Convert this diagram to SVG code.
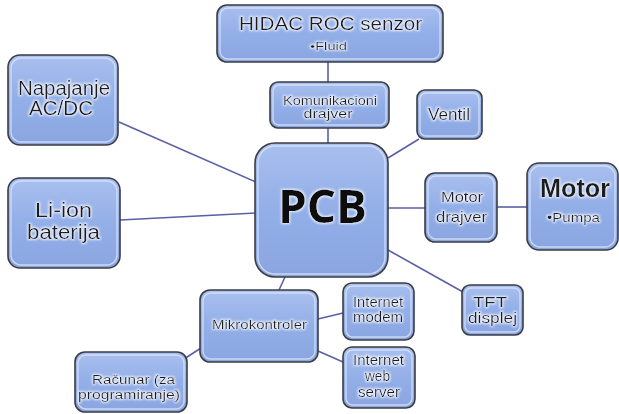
<svg xmlns="http://www.w3.org/2000/svg" width="619" height="414" viewBox="0 0 619 414">
<defs>
<linearGradient id="fillg" x1="0" y1="0" x2="0" y2="1">
<stop offset="0" stop-color="#a9bfee"/>
<stop offset="0.5" stop-color="#93afe8"/>
<stop offset="1" stop-color="#8aa5e0"/>
</linearGradient>
<filter id="glow" x="-20%" y="-40%" width="140%" height="180%">
<feMorphology in="SourceAlpha" operator="dilate" radius="1" result="d"/>
<feGaussianBlur in="d" stdDeviation="1.3" result="b"/>
<feFlood flood-color="#f4f7ff" flood-opacity="0.9"/>
<feComposite in2="b" operator="in" result="g"/>
<feMerge><feMergeNode in="g"/><feMergeNode in="SourceGraphic"/></feMerge>
</filter>
</defs>
<style>
.box{fill:url(#fillg);stroke:#3b3d45;stroke-width:1.6}
.hl{fill:none;stroke:#dfe8fb;stroke-width:1.4;stroke-opacity:0.75}
.t{font-family:"Liberation Sans",Arial,sans-serif;fill:#1c1c1c;text-anchor:middle;filter:url(#glow)}
.b{font-weight:bold}
.pcb{font-family:"Open Sans","Liberation Sans",sans-serif;font-weight:bold;fill:#0a0a0a;text-anchor:middle;filter:url(#glow)}
.c{stroke:#5a5fa6;stroke-width:1.6;fill:none}
</style>
<rect width="619" height="414" fill="#ffffff"/>
<g id="connectors">
<line class="c" x1="328" y1="62" x2="328" y2="82"/>
<line class="c" x1="328" y1="128" x2="328" y2="143"/>
<line class="c" x1="388" y1="158" x2="419" y2="139"/>
<line class="c" x1="119" y1="122" x2="256" y2="182"/>
<line class="c" x1="120" y1="220" x2="256" y2="213"/>
<line class="c" x1="388" y1="208" x2="425" y2="208"/>
<line class="c" x1="497" y1="207" x2="527" y2="207"/>
<line class="c" x1="388" y1="250" x2="463" y2="292"/>
<line class="c" x1="285" y1="277" x2="279" y2="290"/>
<line class="c" x1="318" y1="319" x2="343" y2="313"/>
<line class="c" x1="318" y1="351" x2="343" y2="362"/>
<line class="c" x1="201" y1="348" x2="184" y2="359"/>
</g>
<g id="hidac">
<rect class="box" x="217" y="5" width="226" height="57" rx="10"/>
<rect class="hl" x="220" y="8" width="220" height="51" rx="8"/>
<text class="t" x="330.5" y="30" font-size="18" textLength="183" lengthAdjust="spacingAndGlyphs">HIDAC ROC senzor</text>
<text class="t" x="328.5" y="50" font-size="11" textLength="37" lengthAdjust="spacingAndGlyphs">•Fluid</text>
</g>
<g id="komunikacioni">
<rect class="box" x="270" y="82" width="119" height="46" rx="8"/>
<rect class="hl" x="273" y="85" width="113" height="40" rx="6"/>
<text class="t" x="330" y="105" font-size="12.5" textLength="94" lengthAdjust="spacingAndGlyphs">Komunikacioni</text>
<text class="t" x="328" y="118" font-size="12.5" textLength="49" lengthAdjust="spacingAndGlyphs">drajver</text>
</g>
<g id="ventil">
<rect class="box" x="417" y="90" width="65" height="49" rx="8"/>
<rect class="hl" x="420" y="93" width="59" height="43" rx="6"/>
<text class="t" x="449" y="120" font-size="16" textLength="42" lengthAdjust="spacingAndGlyphs">Ventil</text>
</g>
<g id="napajanje">
<rect class="box" x="8" y="55" width="110" height="90" rx="12"/>
<rect class="hl" x="11" y="58" width="104" height="84" rx="10"/>
<text class="t" x="64" y="95" font-size="20" textLength="92" lengthAdjust="spacingAndGlyphs">Napajanje</text>
<text class="t" x="61" y="115" font-size="20" textLength="64" lengthAdjust="spacingAndGlyphs">AC/DC</text>
</g>
<g id="liion">
<rect class="box" x="8" y="178" width="112" height="90" rx="12"/>
<rect class="hl" x="11" y="181" width="106" height="84" rx="10"/>
<text class="t" x="63.5" y="217" font-size="20" textLength="57" lengthAdjust="spacingAndGlyphs">Li-ion</text>
<text class="t" x="63.5" y="239" font-size="20" textLength="73" lengthAdjust="spacingAndGlyphs">baterija</text>
</g>
<g id="pcb">
<rect class="box" x="255" y="143" width="133" height="134" rx="20"/>
<rect class="hl" x="258" y="146" width="127" height="128" rx="17"/>
<text class="pcb" x="322.5" y="223" font-size="46" textLength="89" lengthAdjust="spacingAndGlyphs">PCB</text>
</g>
<g id="motordrajver">
<rect class="box" x="425" y="173" width="72" height="69" rx="10"/>
<rect class="hl" x="428" y="176" width="66" height="63" rx="8"/>
<text class="t" x="462" y="202" font-size="15" textLength="42" lengthAdjust="spacingAndGlyphs">Motor</text>
<text class="t" x="461.5" y="222" font-size="15" textLength="51" lengthAdjust="spacingAndGlyphs">drajver</text>
</g>
<g id="motor">
<rect class="box" x="527" y="163" width="91" height="87" rx="12"/>
<rect class="hl" x="530" y="166" width="85" height="81" rx="10"/>
<text class="t b" x="575" y="197" font-size="26" textLength="70" lengthAdjust="spacingAndGlyphs">Motor</text>
<text class="t" x="573.5" y="222" font-size="13" textLength="53" lengthAdjust="spacingAndGlyphs">•Pumpa</text>
</g>
<g id="tft">
<rect class="box" x="462" y="285" width="61" height="50" rx="8"/>
<rect class="hl" x="465" y="288" width="55" height="44" rx="6"/>
<text class="t" x="490" y="307" font-size="15" textLength="34" lengthAdjust="spacingAndGlyphs">TFT</text>
<text class="t" x="492.5" y="323" font-size="15" textLength="49" lengthAdjust="spacingAndGlyphs">displej</text>
</g>
<g id="mikrokontroler">
<rect class="box" x="200" y="290" width="118" height="72" rx="10"/>
<rect class="hl" x="203" y="293" width="112" height="66" rx="8"/>
<text class="t" x="259.5" y="329" font-size="13" textLength="95" lengthAdjust="spacingAndGlyphs">Mikrokontroler</text>
</g>
<g id="modem">
<rect class="box" x="343" y="283" width="71" height="57" rx="9"/>
<rect class="hl" x="346" y="286" width="65" height="51" rx="7"/>
<text class="t" x="378" y="307" font-size="14" textLength="50" lengthAdjust="spacingAndGlyphs">Internet</text>
<text class="t" x="378" y="322" font-size="14" textLength="50" lengthAdjust="spacingAndGlyphs">modem</text>
</g>
<g id="webserver">
<rect class="box" x="343" y="347" width="72" height="61" rx="9"/>
<rect class="hl" x="346" y="350" width="66" height="55" rx="7"/>
<text class="t" x="378.5" y="365" font-size="14" textLength="51" lengthAdjust="spacingAndGlyphs">Internet</text>
<text class="t" x="377.5" y="381" font-size="14" textLength="25" lengthAdjust="spacingAndGlyphs">web</text>
<text class="t" x="379" y="397" font-size="14" textLength="42" lengthAdjust="spacingAndGlyphs">server</text>
</g>
<g id="racunar">
<rect class="box" x="75" y="352" width="112" height="60" rx="10"/>
<rect class="hl" x="78" y="355" width="106" height="54" rx="8"/>
<text class="t" x="133.5" y="384" font-size="12" textLength="83" lengthAdjust="spacingAndGlyphs">Računar (za</text>
<text class="t" x="129" y="399" font-size="12" textLength="102" lengthAdjust="spacingAndGlyphs">programiranje)</text>
</g>
</svg>
